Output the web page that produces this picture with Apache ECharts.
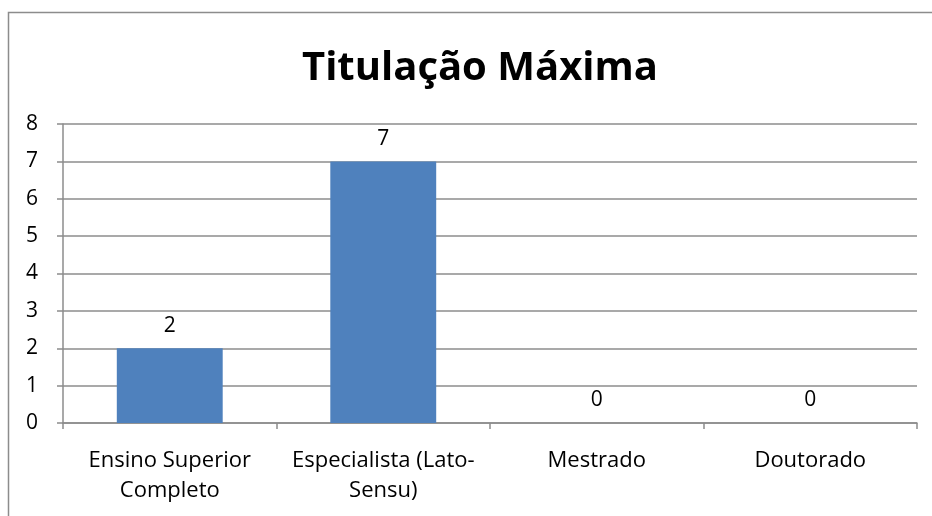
<!DOCTYPE html>
<html>
<head>
<meta charset="utf-8">
<script src="https://cdn.jsdelivr.net/npm/echarts@6/dist/echarts.min.js"></script>
<style>
  html, body { margin: 0; padding: 0; background: #fff; }
  #chart { width: 932px; height: 516px; }
</style>
</head>
<body>
<div id="chart"></div>
<script>
// dados do gráfico
var categorias = ['Ensino Superior\nCompleto', 'Especialista (Lato-\nSensu)', 'Mestrado', 'Doutorado'];
var valores = [2, 7, 0, 0];
var eixoY = { min: 0, max: 8, interval: 1 };
var titulo = 'Titulação Máxima';

var fonte = '"Open Sans", "Noto Sans", sans-serif';
var cinza = '#8c8c8c';

var myChart = echarts.init(document.getElementById('chart'));
var option = {
  animation: false,
  backgroundColor: '#fff',
  title: {
    text: titulo,
    left: 297,
    top: 44,
    textStyle: { fontFamily: fonte, fontSize: 40, fontWeight: 'bold', color: '#000' }
  },
  graphic: [{
    type: 'rect',
    shape: { x: 8.5, y: 12.5, width: 1000, height: 1000 },
    style: { fill: 'none', stroke: cinza, lineWidth: 1.5 },
    silent: true
  }],
  grid: { left: 63, right: 15, top: 124, bottom: 93 },
  xAxis: {
    type: 'category',
    data: categorias,
    axisLine: { lineStyle: { color: cinza, width: 1.5 } },
    axisTick: { show: true, length: 6, lineStyle: { color: cinza, width: 1.5 } },
    axisLabel: {
      interval: 0,
      hideOverlap: false,
      fontFamily: fonte,
      fontSize: 22,
      color: '#000',
      margin: 23,
      lineHeight: 30
    }
  },
  yAxis: {
    type: 'value',
    min: eixoY.min,
    max: eixoY.max,
    interval: eixoY.interval,
    axisLine: { show: true, lineStyle: { color: cinza, width: 1.5 } },
    axisTick: { show: true, length: 6, lineStyle: { color: cinza, width: 1.5 } },
    splitLine: { lineStyle: { color: cinza, width: 1.5 } },
    axisLabel: { fontFamily: fonte, fontSize: 21, color: '#000', margin: 25 }
  },
  series: [{
    type: 'bar',
    data: valores,
    barWidth: '49.6%',
    itemStyle: { color: '#4f81bd' },
    label: {
      show: true,
      position: 'top',
      distance: 12,
      fontFamily: fonte,
      fontSize: 21,
      color: '#000'
    }
  }]
};
myChart.setOption(option);
</script>
</body>
</html>
